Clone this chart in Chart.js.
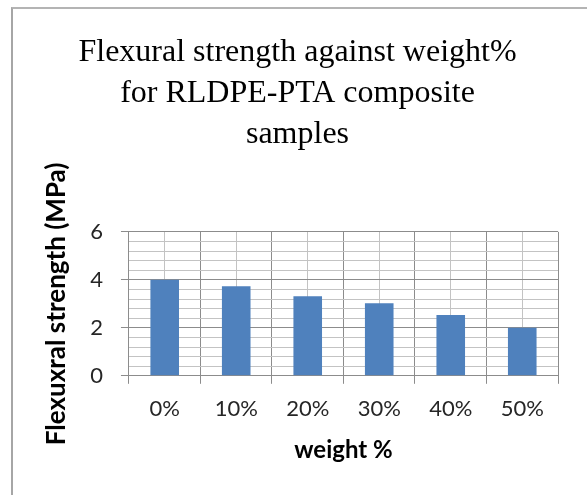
<!DOCTYPE html>
<html>
<head>
<meta charset="utf-8">
<script src="https://cdn.jsdelivr.net/npm/chart.js@4"></script>
<style>
  html, body { margin: 0; padding: 0; background: #fff; }
  #wrap { position: relative; width: 587px; height: 495px; }
  #frame { position: absolute; left: 11px; top: 7px; right: -5px; bottom: -5px;
           border-left: 2px solid #a6a6a6; border-top: 2px solid #b4b4b4; }
</style>
</head>
<body>
<div id="wrap">
  <div id="frame"></div>
  <canvas id="myChart" width="587" height="495"></canvas>
</div>
<script>
const ctx = document.getElementById('myChart');

const labels = ['0%', '10%', '20%', '30%', '40%', '50%'];
const strength = [4.0, 3.73, 3.32, 3.02, 2.53, 2.0];

const majorGrid = '#8c8c8c';
const minorGrid = '#c3c3c3';

new Chart(ctx, {
  type: 'bar',
  data: {
    labels: labels,
    datasets: [
      {
        label: 'Flexural strength',
        data: strength,
        backgroundColor: '#4f81bd',
        borderColor: '#4f81bd',
        borderWidth: 0,
        barPercentage: 0.4,
        categoryPercentage: 1
      }
    ]
  },
  options: {
    responsive: false,
    animation: false,
    layout: {
      padding: { left: 37, right: 29, top: 32, bottom: 26 }
    },
    plugins: {
      legend: { display: false },
      tooltip: { enabled: false },
      title: {
        display: true,
        text: ['Flexural strength against weight%', 'for RLDPE-PTA composite', 'samples'],
        font: { family: '"Liberation Serif", "Times New Roman", serif', size: 32, weight: 'normal', lineHeight: 1.28 },
        color: '#000',
        padding: { top: 0, bottom: 77 }
      }
    },
    scales: {
      x: {
        offset: true,
        grid: {
          offset: true,
          color: majorGrid,
          tickColor: majorGrid,
          tickLength: 8,
          lineWidth: 1
        },
        border: { color: majorGrid },
        ticks: {
          color: '#262626',
          padding: 12,
          font: { family: 'Lato, "Open Sans", sans-serif', size: 22 }
        },
        title: {
          display: true,
          text: 'weight %',
          color: '#000',
          padding: { top: 2 },
          font: { family: 'Lato, "Open Sans", sans-serif', size: 24, weight: 'bold' }
        }
      },
      x2: {
        type: 'category',
        position: 'bottom',
        offset: true,
        grid: {
          offset: false,
          color: minorGrid,
          drawTicks: false
        },
        border: { display: false },
        ticks: { display: false }
      },
      y: {
        min: 0,
        max: 6,
        grid: {
          color: (c) => (Math.abs(c.tick.value % 2) < 1e-6 ? majorGrid : minorGrid),
          tickColor: (c) => (Math.abs(c.tick.value % 2) < 1e-6 ? majorGrid : 'rgba(0,0,0,0)'),
          tickLength: 8
        },
        border: { color: majorGrid },
        ticks: {
          stepSize: 0.4,
          autoSkip: false,
          color: '#262626',
          padding: 18,
          font: { family: 'Lato, "Open Sans", sans-serif', size: 22 },
          callback: (v) => (Math.abs(v % 2) < 1e-6 ? String(Math.round(v)) : '')
        },
        title: {
          display: true,
          text: 'Flexuxral strength (MPa)',
          color: '#000',
          padding: { bottom: 0 },
          font: { family: 'Lato, "Open Sans", sans-serif', size: 26, weight: 'bold' }
        }
      }
    }
  }
});
</script>
</body>
</html>
